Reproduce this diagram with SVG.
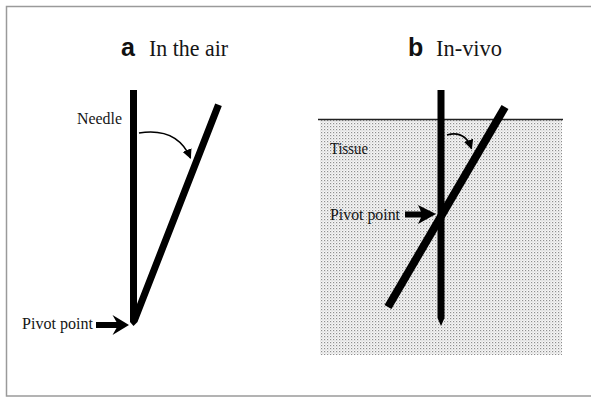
<svg xmlns="http://www.w3.org/2000/svg" width="591" height="398" viewBox="0 0 591 398">
  <style>
    .serif { font-family: "Liberation Serif", "Times New Roman", serif; fill: #151515; }
    .label { font-size: 16.5px; }
    .title { font-size: 24px; }
    .letter { font-family: "Liberation Sans", Arial, sans-serif; font-weight: bold; font-size: 25px; fill: #111; }
    .needle { fill: #000; }
    .curve { fill: none; stroke: #000; stroke-width: 1.6; marker-end: url(#head); }
  </style>
  <defs>
    <pattern id="dots" width="3" height="3" patternUnits="userSpaceOnUse">
      <rect width="3" height="3" fill="#f6f6f6"/>
      <rect x="0" y="0" width="1.2" height="1.2" fill="#8f8f8f"/>
      <rect x="1.5" y="1.5" width="1.0" height="1.0" fill="#bcbcbc"/>
    </pattern>
    <marker id="head" viewBox="0 0 10 10" refX="9" refY="5" markerWidth="6" markerHeight="6" orient="auto" markerUnits="strokeWidth">
      <path d="M0,0 L10,5 L0,10 Z" fill="#000"/>
    </marker>
  </defs>

  <rect x="6.5" y="6.5" width="600" height="389.5" fill="#fff" stroke="#9a9a9a" stroke-width="1.5"/>

  <g id="panel-a">
    <text class="letter" x="121" y="56">a</text>
    <text class="serif title" x="149" y="56" textLength="79" lengthAdjust="spacingAndGlyphs">In the air</text>
    <text class="serif label" x="77" y="124" textLength="45" lengthAdjust="spacingAndGlyphs">Needle</text>
    <polygon class="needle" points="130,90 137,90 137,304 215.2,103.4 221.8,106 137.5,322 133.5,326 130,322"/>
    <text class="serif label" x="22" y="328.5" textLength="71" lengthAdjust="spacingAndGlyphs">Pivot point</text>
  </g>

  <g id="panel-b">
    <text class="letter" x="408" y="56">b</text>
    <text class="serif title" x="436" y="56" textLength="66" lengthAdjust="spacingAndGlyphs">In-vivo</text>
    <rect x="320" y="119.5" width="242" height="235.5" fill="url(#dots)"/>
    <line x1="318" y1="119.5" x2="563" y2="119.5" stroke="#222" stroke-width="1.6"/>
    <text class="serif label" x="330" y="154" textLength="38" lengthAdjust="spacingAndGlyphs">Tissue</text>
    <polygon class="needle" points="437.5,90 444.5,90 444.5,318 441,326 437.5,318"/>
    <line x1="505" y1="107" x2="388" y2="307" stroke="#000" stroke-width="8" stroke-linecap="butt"/>
    <text class="serif label" x="330" y="219.5" textLength="70" lengthAdjust="spacingAndGlyphs">Pivot point</text>
  </g>

  <g id="connectors">
    <path class="curve" d="M139,133 Q177,127 190.5,158"/>
    <path class="curve" d="M447,135 Q465,130 471.5,148.5"/>
    <path class="needle" d="M96,322 L116.5,322 L112.5,315 L129,325 L112.5,335 L116.5,328 L96,328 Z"/>
    <path class="needle" d="M405,211.5 L421,211.5 L418,205 L436,214 L418,224 L421,217.5 L405,217.5 Z"/>
  </g>
</svg>
